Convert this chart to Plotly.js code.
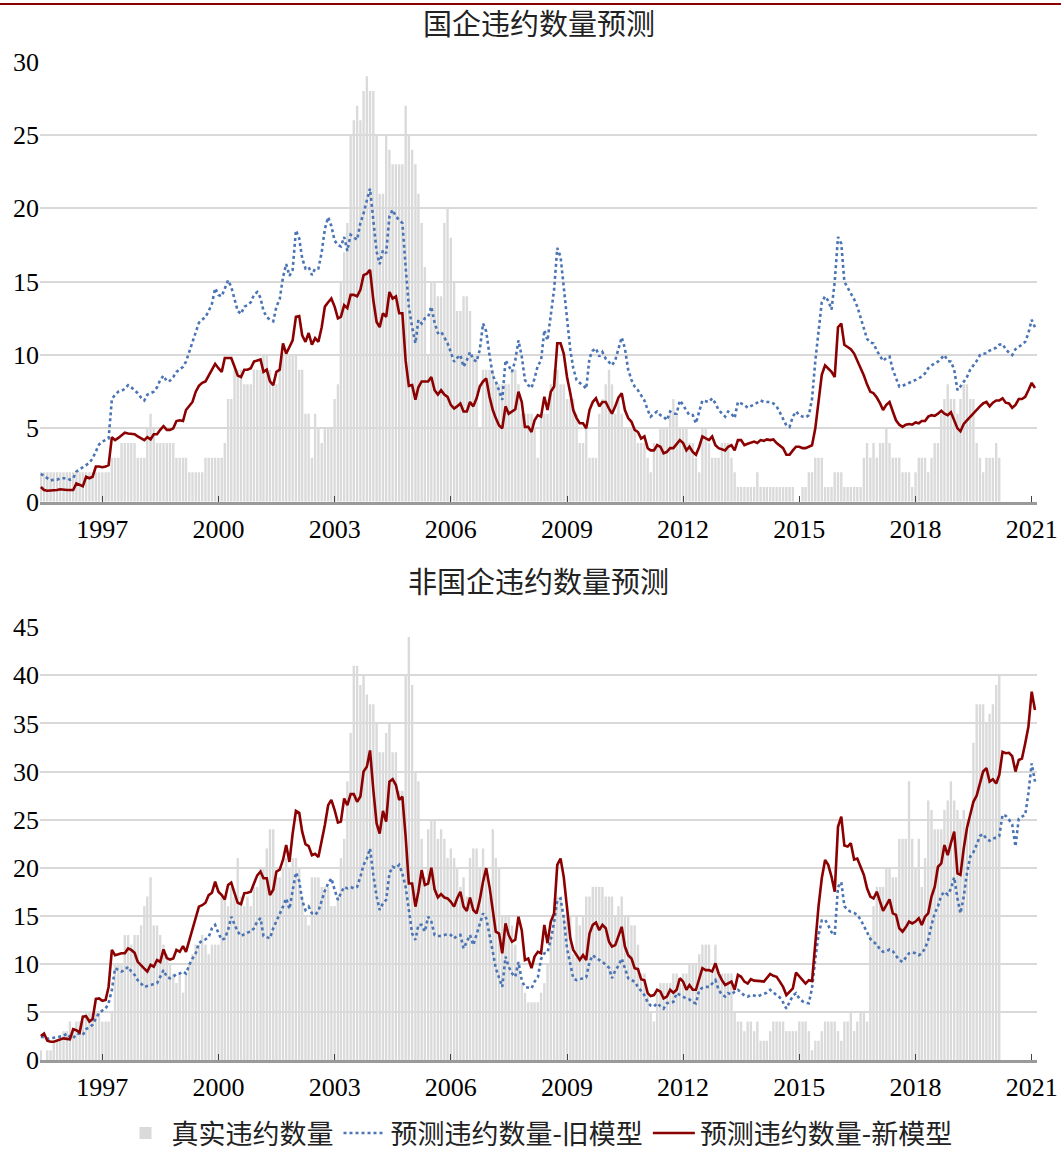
<!DOCTYPE html>
<html><head><meta charset="utf-8">
<script src="https://cdn.plot.ly/plotly-3.0.1.min.js"></script>
<style>body{margin:0;background:#fff}#chart{width:1061px;height:1158px}</style>
</head><body><div id="chart"></div>
<script>
const startYear = 1995, startMonth = 6;
const soeTitle = '国企违约数量预测';
const nonSoeTitle = '非国企违约数量预测';
const seriesNames = ['真实违约数量', '预测违约数量-旧模型', '预测违约数量-新模型'];
const tickYears = [1997, 2000, 2003, 2006, 2009, 2012, 2015, 2018, 2021];

// 国企 — actual defaults (monthly, from 1995-06)
const soeActual = [
2,2,2,2,2,2,2,2,2,2, 2,2,2,2,2,2,2,2,2,2, 2,2,3,3,3,4,4,4,4,4, 3,3,3,5,6,5,4,4,4,4,
4,4,3,3,3,3,2,2,2,2, 2,3,3,3,3,3,3,4,7,7, 9,9,9,8,8,8,9,9,9,10, 10,9,8,8,9,10,10,10,10,10,
9,9,6,6,3,6,5,4,5,5, 5,7,8,15,17,19,25,26,27,26, 28,29,28,28,25,21,21,25,24,23, 23,23,23,27,25,24,23,21,19,16,
10,15,15,14,14,19,20,18,15,13, 13,14,14,13,10,10,5,9,9,9, 9,8,8,8,8,8,9,9,8,6, 6,6,6,5,3,6,6,6,8,9,
9,8,8,7,7,7,6,4,4,5, 3,3,3,6,7,8,9,8,6,7, 6,5,5,5,5,4,4,4,3,2, 4,4,5,5,5,6,7,6,5,5,
5,4,4,3,2,5,5,4,3,3, 3,4,4,4,3,2,1,1,1,1, 1,1,2,1,1,1,1,1,1,1, 1,1,1,1,0,0,1,1,2,2,
3,3,3,1,1,1,2,2,2,1, 1,1,1,1,1,3,4,3,4,3, 4,4,5,4,3,3,3,2,2,2, 1,2,3,3,3,2,3,4,4,6,
7,8,7,7,6,7,8,8,7,7, 4,3,2,3,3,3,4,3
];
// 国企 — old model forecast
const soeOld = [
1.9,1.75,1.6,1.45,1.5,1.5,1.6,1.6,1.6,1.5, 1.6,2.05,2.2,2.4,2.5,2.65,2.95,3.5,3.9,4.1,
4.2,4.3,7.0,7.3,7.5,7.55,7.7,7.95,7.8,7.6, 7.4,7.1,6.9,7.3,7.4,7.5,7.8,8.3,8.6,8.2,
8.25,8.5,8.85,9.0,9.2,9.55,10.2,10.8,11.6,12.2, 12.4,12.6,13.0,13.5,14.55,14.1,14.0,14.6,15.1,14.65,
13.8,13.0,12.8,13.3,13.4,13.6,14.1,14.3,13.9,13.0, 12.6,12.4,12.3,13.3,13.8,15.3,16.2,15.4,15.8,18.5,
17.95,16.6,15.9,16.0,15.45,15.9,15.9,17.0,18.6,19.4, 18.8,17.8,17.5,17.4,18.05,17.1,18.2,18.05,17.85,19.0,
19.65,20.55,21.35,19.2,17.05,16.2,17.15,16.95,19.45,19.9, 19.45,19.2,19.0,16.0,13.3,11.9,10.8,12.4,12.15,12.5,
12.6,13.3,12.2,11.5,11.6,11.2,10.8,10.2,9.55,9.8, 10.0,9.2,9.65,10.2,9.7,9.55,10.35,12.15,11.6,10.0,
8.6,8.2,7.6,6.95,9.65,9.3,8.85,9.65,11.0,9.9, 8.3,7.95,7.75,8.4,9.3,9.6,11.7,11.0,12.85,14.45,
17.3,16.7,14.65,12.4,10.35,9.1,8.3,8.1,7.95,7.7, 9.8,10.3,10.45,9.9,10.2,9.75,9.5,9.3,9.65,10.35,
11.2,10.45,9.0,8.3,7.85,7.6,7.25,6.9,6.25,5.8, 6.0,6.15,5.9,5.8,5.55,6.15,6.0,6.0,6.9,6.6,
6.2,5.9,5.9,5.35,6.15,6.9,6.85,6.8,7.05,6.7, 6.25,6.0,5.8,6.15,6.0,5.7,6.8,6.7,6.6,6.4,
6.5,6.6,6.75,6.9,6.8,6.8,6.8,6.7,6.5,6.1, 5.6,5.2,5.1,5.8,6.15,5.9,5.8,5.75,5.9,7.0,
9.6,11.8,13.6,14.0,13.7,13.1,15.0,18.05,17.6,15.0, 14.6,14.2,13.8,13.3,12.6,11.8,11.1,10.85,10.8,10.3,
9.9,9.6,9.8,9.9,9.0,8.4,7.85,7.9,8.0,8.05, 8.2,8.3,8.4,8.55,8.75,9.1,9.3,9.45,9.55,9.8,
10.0,9.6,9.55,9.0,7.6,7.85,8.2,8.5,9.0,9.3, 9.6,10.0,10.1,10.1,10.3,10.4,10.5,10.7,10.75,10.4,
10.15,10.0,10.4,10.55,10.7,10.9,11.5,12.4,11.9
];
// 国企 — new model forecast
const soeNew = [
1.0,0.8,0.75,0.75,0.75,0.8,0.85,0.8,0.8,0.8, 0.8,1.25,1.15,1.05,1.7,1.6,1.7,2.4,2.4,2.35,
2.4,2.5,4.4,4.2,4.35,4.5,4.7,4.65,4.65,4.6, 4.45,4.3,4.2,4.4,4.25,4.6,4.6,4.9,5.15,4.9,
4.9,5.0,5.5,5.55,5.5,6.25,6.5,6.8,7.5,7.9, 8.1,8.2,8.6,9.0,9.4,9.1,8.85,9.8,9.8,9.8,
9.2,8.6,8.5,9.0,9.0,9.1,9.55,9.6,9.7,8.85, 9.0,8.2,7.95,8.85,9.0,10.8,10.1,10.55,11.0,12.6,
12.65,11.35,10.9,11.5,10.7,11.15,10.9,11.9,13.3,13.6, 13.85,13.3,12.5,12.6,13.4,13.2,14.1,14.1,14.0,14.45,
15.45,15.55,15.8,13.75,12.25,11.9,12.85,12.6,14.3,13.85, 14.0,12.85,12.85,9.6,7.9,7.95,6.95,7.8,8.2,8.2,
8.2,8.5,7.6,7.3,7.6,7.3,7.15,6.6,6.35,6.5, 6.7,6.15,6.15,6.8,6.5,7.05,7.85,8.2,8.4,7.15,
6.25,5.7,5.2,5.0,6.5,6.0,6.15,6.3,7.5,6.8, 5.1,5.1,4.75,5.55,5.9,5.8,7.15,6.25,7.5,7.85,
10.8,10.8,10.1,8.5,7.4,6.25,5.7,5.35,5.35,5.0, 6.25,6.8,7.05,6.5,6.8,6.8,6.35,6.0,6.5,7.1,
7.4,6.25,5.7,5.45,4.9,4.75,4.3,4.45,3.65,3.5, 3.5,3.85,3.75,3.3,3.4,3.65,3.65,3.9,4.2,4.0,
3.5,3.75,3.4,3.2,3.75,4.45,4.3,4.2,4.45,3.85, 3.65,3.6,3.5,3.75,3.85,3.5,4.2,4.2,3.85,3.95,
4.05,4.1,4.0,4.2,4.15,4.25,4.2,4.25,4.0,3.85, 3.65,3.2,3.2,3.5,3.75,3.75,3.65,3.65,3.75,3.85,
5.0,6.9,8.65,9.3,9.1,8.85,8.5,11.9,12.15,10.7, 10.55,10.4,10.1,9.6,9.2,8.6,8.0,7.5,7.4,7.1,
6.7,6.25,6.6,6.8,6.15,5.55,5.25,5.1,5.25,5.3, 5.25,5.4,5.35,5.5,5.5,5.8,5.9,5.85,6.0,6.2,
6.0,5.9,6.1,5.6,5.0,4.8,5.3,5.55,5.8,6.0, 6.25,6.5,6.7,6.8,6.5,6.75,6.9,6.9,7.05,6.75,
6.7,6.4,6.6,7.0,7.0,7.15,7.6,8.1,7.75
];

// 非国企 — actual defaults
const nonSoeActual = [
1,0,1,1,2,2,2,3,3,4, 3,4,4,4,5,5,5,5,5,4, 4,4,5,10,10,10,13,13,12,13, 13,14,16,17,19,14,14,13,12,11,
10,9,8,9,7,9,10,11,12,12, 13,12,11,12,12,12,17,17,16,18, 17,21,17,16,17,16,18,18,20,20, 22,24,24,19,19,20,21,20,21,21,
20,17,15,14,19,19,19,18,18,18, 16,16,17,21,23,29,34,41,41,39, 40,38,37,37,35,32,32,34,35,32, 32,28,28,40,44,39,30,29,23,19,
24,25,25,23,24,23,21,22,21,20, 18,19,17,21,22,22,20,22,19,17, 24,21,20,15,15,15,14,12,10,8, 7,6,6,6,6,7,8,10,13,15,
17,17,15,16,15,11,15,14,15,17, 17,18,18,18,18,17,17,17,15,16, 17,15,15,14,14,12,9,9,7,5, 4,7,8,8,8,8,9,9,8,9,
9,10,10,10,11,12,12,12,9,12, 9,9,9,9,9,5,4,4,3,4, 4,3,4,2,2,2,3,4,4,4, 4,3,3,3,3,4,4,4,3,1,
2,2,3,4,4,4,4,3,2,4, 4,5,3,4,5,5,4,13,16,18, 18,18,20,20,19,19,23,23,23,29, 23,20,23,18,21,27,26,24,24,24,
26,27,29,27,26,25,26,25,25,33, 37,37,37,35,36,37,39,40
];
// 非国企 — old model forecast
const nonSoeOld = [
2.4,2.4,2.2,2.25,2.35,2.4,2.4,2.5,2.75,2.4, 2.25,2.7,2.75,2.6,3.2,3.45,3.65,4.35,4.85,5.15,
5.35,5.9,7.3,9.55,9.35,9.2,9.35,9.7,9.2,8.85, 8.3,7.9,7.6,7.7,7.8,7.9,8.0,8.65,9.35,8.65,
8.5,8.65,8.95,9.0,9.2,9.0,9.9,10.55,11.1,12.15, 12.4,12.55,12.8,13.7,14.05,13.2,12.5,12.65,13.5,14.9,
14.05,13.35,12.9,13.1,13.25,13.35,13.7,14.4,14.75,12.9, 12.8,12.65,13.7,14.4,15.25,15.95,16.8,15.7,17.6,19.5,
18.6,16.6,15.6,15.95,15.25,15.1,15.5,16.5,17.6,18.35, 18.9,17.7,16.65,17.35,18.0,17.85,18.0,17.85,18.0,19.05,
20.3,20.95,22.0,19.25,17.0,15.6,16.3,16.65,19.4,20.1, 19.95,20.3,19.4,18.0,15.6,13.15,12.5,14.05,14.05,13.35,
14.9,14.4,13.0,12.9,12.9,13.0,13.1,13.0,12.65,12.9, 13.0,11.6,12.3,13.0,11.95,13.0,14.05,15.25,14.75,12.8,
11.25,9.55,8.5,7.6,10.75,9.7,9.0,8.65,10.2,8.3, 7.6,7.5,7.45,8.15,8.6,10.5,11.1,11.2,12.5,14.3,
16.6,16.8,14.8,11.6,9.8,8.5,8.3,8.4,8.5,8.6, 10.2,10.9,10.6,10.4,10.2,9.9,9.6,8.5,9.3,9.8,
10.55,9.55,8.5,8.3,8.15,7.6,7.2,6.75,6.0,5.65, 5.55,5.9,5.6,5.35,5.9,6.0,6.05,6.95,6.75,6.6,
6.4,6.3,6.0,5.9,7.3,7.5,7.6,7.6,8.0,8.3, 7.3,6.8,6.6,6.95,6.8,7.1,7.3,6.95,6.7,6.6,
6.75,6.7,6.6,6.75,6.9,7.0,7.3,7.0,6.75,6.5, 6.0,5.35,6.0,6.7,6.95,6.4,6.1,5.95,5.9,7.5,
10.5,13.0,14.5,14.6,14.0,13.3,13.0,18.0,18.5,16.0, 15.6,15.4,15.3,15.1,14.6,14.0,13.3,12.6,12.3,12.0,
11.5,11.25,11.3,11.5,11.3,10.9,10.4,10.2,10.6,11.1, 11.2,11.1,10.9,11.1,11.6,12.5,14.05,15.25,16.0,17.1,
17.5,17.2,17.8,19.0,16.8,15.25,17.0,19.4,21.15,21.6, 22.4,23.3,23.5,23.0,22.8,23.05,23.1,23.3,25.5,25.4,
25.0,24.5,22.2,25.1,25.3,25.5,27.75,30.85,28.95
];
// 非国企 — new model forecast
const nonSoeNew = [
2.5,2.75,2.0,1.9,1.9,2.0,2.15,2.25,2.2,2.15, 3.2,3.1,2.85,4.5,4.55,4.0,4.25,6.35,6.4,6.15,
6.25,7.6,11.45,10.9,11.0,11.1,11.1,11.6,11.45,11.15, 10.2,9.9,9.5,9.2,9.9,9.7,10.4,10.2,11.5,10.6,
10.45,10.55,11.45,11.25,11.85,11.25,12.5,13.7,14.9,15.95, 16.1,16.35,17.15,17.4,18.55,17.5,17.15,16.7,18.2,18.45,
17.35,16.35,16.2,17.35,17.4,17.5,18.35,19.2,19.6,18.9, 18.9,17.15,17.7,19.6,19.8,20.8,22.35,20.6,23.55,25.9,
25.7,23.75,22.45,22.25,21.3,21.45,21.1,22.7,24.45,26.5, 27.05,26.0,24.7,24.8,27.2,26.5,27.65,27.65,26.85,27.4,
30.0,30.5,32.2,28.1,24.6,23.55,25.9,24.8,28.95,29.2, 28.6,27.05,27.4,23.2,18.35,18.35,15.95,17.5,19.75,18.2,
18.35,20.0,17.75,16.9,17.25,16.9,16.8,16.45,15.95,16.8, 17.5,15.95,15.5,16.9,15.6,15.25,16.65,18.55,19.95,18.0,
15.25,13.35,13.15,11.1,14.2,13.0,12.3,12.5,14.9,13.5, 10.4,10.55,9.55,10.75,11.25,11.1,14.05,12.15,14.4,15.25,
20.3,20.95,19.05,15.6,12.65,11.45,10.9,10.4,10.9,10.4, 13.15,14.05,14.3,13.5,14.05,13.7,12.3,11.8,11.95,12.9,
13.85,11.8,10.9,10.55,9.55,9.45,8.4,8.3,6.95,6.65, 6.75,7.3,7.1,6.4,6.6,7.3,7.0,7.3,8.5,8.15,
7.3,7.8,7.3,7.3,8.5,9.55,9.35,9.35,9.2,10.05, 9.0,8.3,7.8,7.95,8.15,7.3,8.85,8.65,8.15,7.95,
8.4,8.25,8.25,8.2,8.15,8.5,8.95,8.75,8.65,8.15, 7.6,6.75,7.1,7.45,9.1,8.65,8.3,7.95,8.3,8.2,
12.3,15.95,18.9,20.8,20.3,19.05,17.5,24.25,25.3,22.3, 22.2,22.55,20.85,20.95,20.1,19.25,17.85,17.0,16.8,17.5,
16.45,15.5,16.1,16.7,15.25,15.1,13.7,13.35,13.8,14.4, 14.2,14.4,14.75,14.05,14.9,15.25,17.0,18.0,20.1,20.45,
22.35,21.3,22.55,23.75,19.4,19.25,22.0,24.1,25.5,26.85, 27.5,28.75,30.0,30.35,28.95,29.2,28.75,29.65,32.05,31.9,
31.95,31.6,30.0,31.2,31.35,32.95,34.65,38.3,36.4
];

function monthLabel(i) {
  const t = startMonth - 1 + i;
  const y = startYear + Math.floor(t / 12);
  const m = t % 12 + 1;
  return y + '-' + String(m).padStart(2, '0') + '-01';
}
const months = soeNew.map((_, i) => monthLabel(i));

const barColor = '#dadada';
const oldColor = '#4a74b4';
const newColor = '#8b0000';
const serif = 'Liberation Serif, Times New Roman, serif';
const cjk = 'Noto Sans CJK SC, sans-serif';

function panel(actual, oldM, newM, xa, ya, show) {
  return [
    {type: 'bar', x: months.slice(0, actual.length), y: actual, xaxis: xa, yaxis: ya,
     name: seriesNames[0], marker: {color: barColor, line: {width: 0}}, showlegend: show, hoverinfo: 'x+y'},
    {type: 'scatter', mode: 'lines', x: months, y: oldM, xaxis: xa, yaxis: ya,
     name: seriesNames[1], line: {color: oldColor, width: 2.6, dash: 'dot'}, showlegend: show},
    {type: 'scatter', mode: 'lines', x: months, y: newM, xaxis: xa, yaxis: ya,
     name: seriesNames[2], line: {color: newColor, width: 2.6}, showlegend: show}
  ];
}

const data = [].concat(
  panel(soeActual, soeOld, soeNew, 'x', 'y', true),
  panel(nonSoeActual, nonSoeOld, nonSoeNew, 'x2', 'y2', false)
);

const tickVals = tickYears.map(y => y + '-01-01');
const tickText = tickYears.map(String);
const xRange = ['1995-05-24', '2021-02-20'];

function xAxis(anchor) {
  return {
    anchor: anchor, type: 'date', range: xRange, tickmode: 'array',
    tickvals: tickVals, ticktext: tickText,
    ticks: 'inside', ticklen: 6, tickwidth: 1.2, tickcolor: '#444',
    showline: true, linecolor: '#9a9a9a', linewidth: 2.5,
    showgrid: false, zeroline: false, ticklabelstandoff: 2,
    tickfont: {family: serif, size: 26, color: '#000'}
  };
}
function yAxis(anchor, domain, max) {
  return {
    anchor: anchor, domain: domain, range: [0, max], dtick: 5, tick0: 0,
    showgrid: true, gridcolor: '#d9d9d9', gridwidth: 1.6,
    zeroline: false, showline: false, ticks: '',
    ticklabelstandoff: 0,
    tickfont: {family: serif, size: 26, color: '#000'}
  };
}

const H = 1158;
const layout = {
  width: 1061, height: H,
  margin: {l: 40, r: 24, t: 0, b: 0, pad: 0, autoexpand: false},
  paper_bgcolor: '#fff', plot_bgcolor: '#fff',
  bargap: 0.2,
  xaxis: xAxis('y'),
  yaxis: yAxis('x', [1 - 501.7 / H, 1 - 61.7 / H], 30),
  xaxis2: xAxis('y2'),
  yaxis2: yAxis('x2', [1 - 1060 / H, 1 - 627.3 / H], 45),
  showlegend: true,
  legend: {
    orientation: 'h', x: 0.5, xanchor: 'center', y: 0, yanchor: 'bottom',
    font: {family: cjk, size: 27, color: '#222'}, itemwidth: 42, traceorder: 'normal'
  },
  annotations: [
    {text: soeTitle, xref: 'paper', yref: 'paper', x: 0.5, y: 1 - 22 / H, xanchor: 'center', yanchor: 'middle',
     showarrow: false, font: {family: cjk, size: 29, color: '#222'}},
    {text: nonSoeTitle, xref: 'paper', yref: 'paper', x: 0.5, y: 1 - 580 / H, xanchor: 'center', yanchor: 'middle',
     showarrow: false, font: {family: cjk, size: 29, color: '#222'}}
  ],
  shapes: [
    {type: 'line', xref: 'paper', yref: 'paper', x0: -0.05, x1: 1.05, y0: 1 - 4 / H, y1: 1 - 4 / H,
     line: {color: '#8b0000', width: 2}}
  ]
};

Plotly.newPlot('chart', data, layout, {displayModeBar: false, responsive: false});
</script>
</body></html>
